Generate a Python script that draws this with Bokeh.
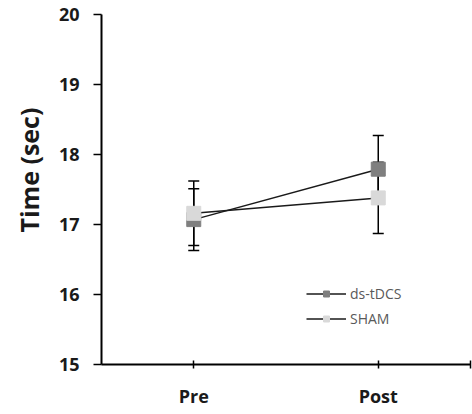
from bokeh.plotting import figure
from bokeh.models import (ColumnDataSource, Whisker, TeeHead, FixedTicker, Legend,
                          LegendItem, Title)
from bokeh.embed import file_html
from bokeh.resources import INLINE

phases = ["Pre", "Post"]
phase_pos = [1, 2]
ds_tdcs = [17.07, 17.79]
ds_tdcs_err = [0.44, 0.48]
sham = [17.16, 17.38]
sham_err = [0.46, 0.51]
y_ticks = [15, 16, 17, 18, 19, 20]

FONT = "Open Sans"
DARK = "#7f7f7f"
LIGHT = "#d9d9d9"

p = figure(width=472, height=414, output_backend="svg", toolbar_location=None,
           x_range=(0.5, 2.5), y_range=(15, 20),
           min_border_left=98, min_border_right=2, min_border_top=14, min_border_bottom=50)
p.outline_line_color = None
p.xgrid.visible = False
p.ygrid.visible = False
p.background_fill_color = "white"
p.border_fill_color = "white"

def src(vals, errs):
    return ColumnDataSource(dict(x=phase_pos, y=vals,
                                 upper=[v + e for v, e in zip(vals, errs)],
                                 lower=[v - e for v, e in zip(vals, errs)]))

s_ds = src(ds_tdcs, ds_tdcs_err)
s_sh = src(sham, sham_err)

for s in (s_ds, s_sh):
    w = Whisker(base="x", upper="upper", lower="lower", source=s,
                line_color="black", line_width=1.5,
                upper_head=TeeHead(size=11, line_color="black", line_width=1.5),
                lower_head=TeeHead(size=11, line_color="black", line_width=1.5))
    p.add_layout(w)

l_ds = p.line("x", "y", source=s_ds, line_color="#1a1a1a", line_width=1.5)
l_sh = p.line("x", "y", source=s_sh, line_color="#1a1a1a", line_width=1.5)
m_ds = p.scatter("x", "y", source=s_ds, marker="square", size=14,
                 fill_color=DARK, line_color=DARK)
m_sh = p.scatter("x", "y", source=s_sh, marker="square", size=14,
                 fill_color=LIGHT, line_color=LIGHT)

# axes
p.yaxis.ticker = FixedTicker(ticks=y_ticks)
p.yaxis.minor_tick_line_color = None
p.yaxis.major_tick_out = 8
p.yaxis.major_tick_in = 0
p.yaxis.major_tick_line_width = 1.5
p.yaxis.major_tick_line_color = "black"
p.yaxis.axis_line_width = 2
p.yaxis.axis_line_color = "black"
p.yaxis.major_label_standoff = 14
p.yaxis.major_label_text_font = FONT
p.yaxis.major_label_text_font_style = "bold"
p.yaxis.major_label_text_font_size = "18px"
p.yaxis.major_label_text_color = "#1a1a1a"

p.xaxis.ticker = FixedTicker(ticks=[1, 2, 2.5])
p.xaxis.major_label_overrides = {1: phases[0], 2: phases[1], 2.5: ""}
p.xaxis.minor_tick_line_color = None
p.xaxis.major_tick_out = 4
p.xaxis.major_tick_in = 4
p.xaxis.major_tick_line_width = 1.5
p.xaxis.major_tick_line_color = "black"
p.xaxis.axis_line_width = 2
p.xaxis.axis_line_color = "black"
p.xaxis.major_label_standoff = 15
p.xaxis.major_label_text_font = FONT
p.xaxis.major_label_text_font_style = "bold"
p.xaxis.major_label_text_font_size = "18px"
p.xaxis.major_label_text_color = "#1a1a1a"

ytitle = Title(text="Time (sec)", align="left", offset=132,
               text_font=FONT, text_font_style="bold", text_font_size="25px",
               text_color="#1a1a1a", standoff=19)
p.add_layout(ytitle, "left")

legend = Legend(items=[LegendItem(label="ds-tDCS", renderers=[l_ds, m_ds]),
                       LegendItem(label="SHAM", renderers=[l_sh, m_sh])],
                location=(205, 36), margin=0, padding=0, spacing=6,
                glyph_width=40, glyph_height=15, label_height=15, label_standoff=4,
                label_text_font=FONT, label_text_font_size="14px",
                label_text_color="#595959",
                border_line_color=None, background_fill_alpha=0)
p.add_layout(legend)

open("out.html", "w").write(file_html(p, INLINE))
